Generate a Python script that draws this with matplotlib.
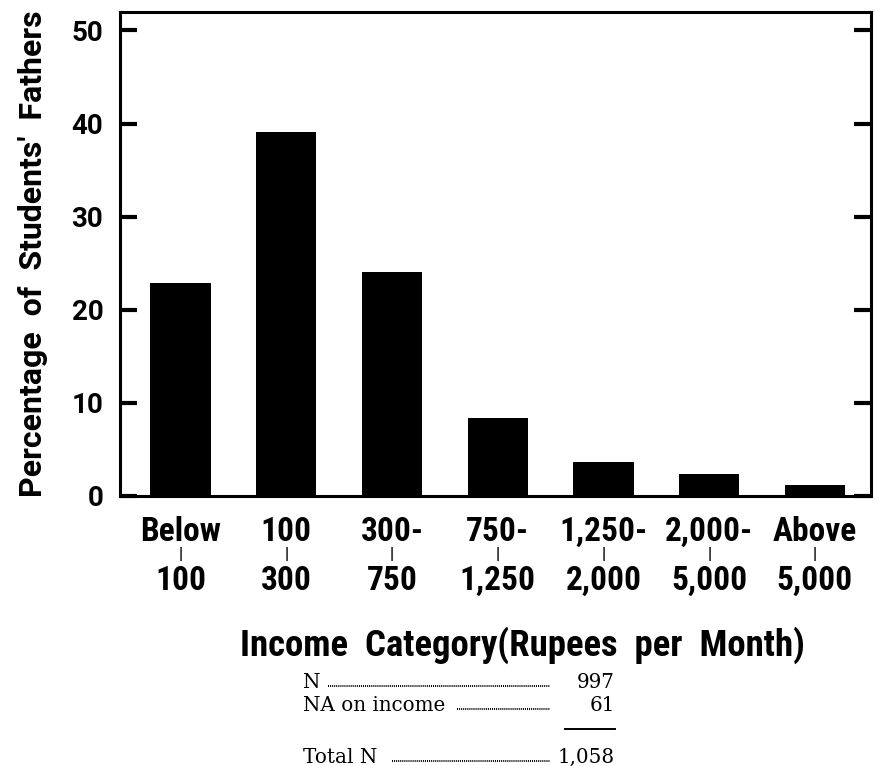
import numpy as np
import matplotlib.pyplot as plt
import matplotlib.transforms as mtransforms

# Данные
top_labels = ["Below", "100", "300-", "750-", "1,250-", "2,000-", "Above"]
bottom_labels = ["100", "300", "750", "1,250", "2,000", "5,000", "5,000"]
percent = [22.9, 39.1, 24.1, 8.4, 3.6, 2.4, 1.2]
y_ticks = [0, 10, 20, 30, 40, 50]

table_rows = ["N", "NA on income", "Total N"]
table_vals = ["997", "61", "1,058"]

cond = ["Roboto Condensed", "DejaVu Sans"]
wide = ["Roboto", "DejaVu Sans"]
serif = ["DejaVu Serif", "Liberation Serif"]

fig = plt.figure(figsize=(8.75, 7.66), dpi=100)
ax = fig.add_axes([0.1371, 0.3525, 0.8583, 0.632])

x = np.arange(len(percent))
ax.bar(x, percent, width=0.57, color="black")
ax.set_xlim(-0.573, 6.53)
ax.set_ylim(0, 52.0)

for side in ["left", "right", "top", "bottom"]:
    ax.spines[side].set_linewidth(2.2)

ax.set_yticks(y_ticks)
ax.set_yticklabels([str(t) for t in y_ticks], fontsize=20, fontweight="bold",
                   family=wide)
ax.tick_params(axis="y", direction="in", length=12, width=3, pad=12,
               right=True, labelright=False)
ax.set_xticks([])

# подписи категорий в две строки с разделителем
trans = mtransforms.blended_transform_factory(ax.transData, ax.transAxes)
for i in range(len(percent)):
    ax.text(x[i], -0.042, top_labels[i], transform=trans, ha="center",
            va="top", fontsize=24, fontweight="bold", family=cond)
    ax.text(x[i], -0.105, "|", transform=trans, ha="center", va="top",
            fontsize=12, fontweight="bold", family=cond)
    ax.text(x[i], -0.142, bottom_labels[i], transform=trans, ha="center",
            va="top", fontsize=24, fontweight="bold", family=cond)

ax.set_ylabel("Percentage  of  Students'  Fathers", fontsize=23,
              fontweight="bold", family=wide, labelpad=17)
fig.text(0.597, 0.144, "Income  Category(Rupees  per  Month)", ha="center",
         va="baseline", fontsize=26.5, fontweight="bold", family=cond)

# таблица N
ys = [1 - 688 / 766, 1 - 711 / 766, 1 - 763 / 766]
for lab, val, yy in zip(table_rows, table_vals, ys):
    fig.text(0.346, yy, lab, fontsize=14.3, family=serif, va="baseline")
    fig.text(0.703, yy, val, fontsize=14.3, family=serif, ha="right",
             va="baseline")
dot_starts = [328 / 875, 457 / 875, 392 / 875]
for x0, yy in zip(dot_starts, ys):
    fig.add_artist(plt.Line2D([x0, 550 / 875], [yy + 0.002, yy + 0.002],
                              transform=fig.transFigure, color="black",
                              lw=1.4, ls=(0, (0.5, 0.5))))
fig.add_artist(plt.Line2D([565 / 875, 615 / 875], [1 - 729 / 766, 1 - 729 / 766],
                          transform=fig.transFigure, color="black", lw=1.4))

fig.savefig("out.png", dpi=100)
